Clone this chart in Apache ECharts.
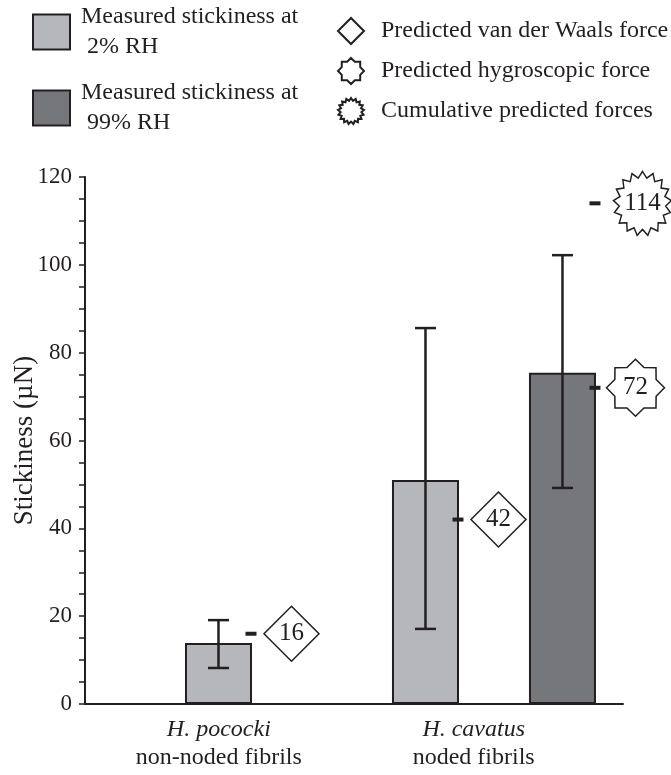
<!DOCTYPE html>
<html><head><meta charset="utf-8">
<script src="https://cdn.jsdelivr.net/npm/echarts@6/dist/echarts.min.js"></script>
<style>html,body{margin:0;padding:0;background:#fff}#c{width:671px;height:775px}</style>
</head><body><div id="c"></div>
<script>
// ---------------- data ----------------
const categories = ['H. pococki', 'H. cavatus'];
const categoryNotes = ['non-noded fibrils', 'noded fibrils'];
const yTickValues = [0, 20, 40, 60, 80, 100, 120];
// measured stickiness (µN) per category [H. pococki, H. cavatus]
const rh2Mean = [13.9, 51.0];
const rh2Low = [8.2, 17.1];
const rh2High = [19.1, 85.6];
const rh99Mean = [null, 75.4];
const rh99Low = [null, 49.2];
const rh99High = [null, 102.2];
// predicted forces (µN)
const vdwForce = [16, 42];          // shown beside the 2% RH bars
const hygroForce = [null, 72];      // shown beside the 99% RH bar
const cumulativeForce = [null, 114];// shown beside the 99% RH bar

const seriesNames = {
  rh2: 'Measured stickiness at 2% RH',
  rh99: 'Measured stickiness at 99% RH',
  vdw: 'Predicted van der Waals force',
  hygro: 'Predicted hygroscopic force',
  cum: 'Cumulative predicted forces'
};

// ---------------- layout (not data) ----------------
const FONT = "'Liberation Serif','Times New Roman',serif";
const INK = '#231f20';
const X_MAX = 8;
const barX = { rh2: [1.985, 5.063], rh99: [null, 7.1] }; // slot of each bar on the hidden x scale
const labelX = [1.99, 5.78];
const BAR_W = 67;

function starPath(n, inner) {
  const pts = [];
  for (let k = 0; k < 2 * n; k++) {
    const a = -Math.PI / 2 + k * Math.PI / n;
    const r = (k % 2 ? inner : 1) * 100;
    pts.push((100 + r * Math.cos(a)).toFixed(2) + ' ' + (100 + r * Math.sin(a)).toFixed(2));
  }
  return 'path://M' + pts.join(' L') + ' Z';
}
const octagram = starPath(8, 0.77);
const spiky = starPath(17, 0.8);

function pairs(xs, ys) {
  const out = [];
  ys.forEach((v, i) => { if (v != null && xs[i] != null) out.push([xs[i], v]); });
  return out;
}
function errs(xs, lo, hi) {
  const out = [];
  lo.forEach((v, i) => { if (v != null && xs[i] != null) out.push([xs[i], v, hi[i]]); });
  return out;
}

const markerStyle = { color: '#fff', borderColor: INK, borderWidth: 1.5, opacity: 1 };
const markerLabel = { show: true, position: 'inside', formatter: p => p.value[1], fontFamily: FONT, fontSize: 25, color: INK };

const chart = echarts.init(document.getElementById('c'), null, { renderer: 'canvas' });
chart.setOption({
  animation: false,
  backgroundColor: '#fff',
  textStyle: { fontFamily: FONT, color: INK },
  grid: { left: 85, right: 48, top: 177, bottom: 71, containLabel: false, outerBoundsMode: 'none' },
  legend: [
    {
      data: [seriesNames.rh2, seriesNames.rh99],
      orient: 'vertical', left: 32, top: 2, padding: 0, itemGap: 16, icon: 'rect',
      itemWidth: 37, itemHeight: 35, selectedMode: false,
      formatter: n => n.replace(' at ', ' at\n '),
      textStyle: { fontFamily: FONT, fontSize: 24, lineHeight: 30, color: INK, padding: [0, 0, 0, 6] }
    },
    {
      data: [seriesNames.vdw, seriesNames.hygro, seriesNames.cum],
      orient: 'vertical', left: 337, top: 17, padding: 0, itemGap: 12,
      itemWidth: 26, itemHeight: 26, selectedMode: false,
      textStyle: { fontFamily: FONT, fontSize: 24, lineHeight: 28, color: INK, padding: [0, 0, 0, 12] }
    }
  ],
  xAxis: {
    type: 'value', min: 0, max: X_MAX,
    axisLine: { show: true, onZero: false, lineStyle: { color: INK, width: 2 } },
    axisTick: { show: false }, splitLine: { show: false },
    axisLabel: {
      customValues: labelX, margin: 12,
      formatter: v => {
        let best = 0;
        labelX.forEach((x, i) => { if (Math.abs(x - v) < Math.abs(labelX[best] - v)) best = i; });
        return '{i|' + categories[best] + '}\n{n|' + categoryNotes[best] + '}';
      },
      rich: {
        i: { fontFamily: FONT, fontStyle: 'italic', fontSize: 24, lineHeight: 28, color: INK },
        n: { fontFamily: FONT, fontSize: 24, lineHeight: 28, color: INK }
      }
    }
  },
  yAxis: {
    type: 'value', min: yTickValues[0], max: yTickValues[yTickValues.length - 1], interval: 20,
    name: 'Stickiness (µN)', nameLocation: 'middle', nameGap: 47, nameRotate: 90, nameMoveOverlap: false,
    nameTextStyle: { fontFamily: FONT, fontSize: 27, color: INK },
    axisLine: { show: true, lineStyle: { color: INK, width: 2 } },
    axisTick: { show: true, length: 6, lineStyle: { color: INK, width: 1.5 } },
    minorTick: { show: true, splitNumber: 4, length: 6, lineStyle: { color: INK, width: 1.5 } },
    splitLine: { show: false },
    axisLabel: { fontFamily: FONT, fontSize: 23, color: INK, margin: 13 }
  },
  series: [
    {
      name: seriesNames.rh2, type: 'bar', barWidth: BAR_W, barGap: '-100%', z: 2,
      itemStyle: { color: '#b6b7ba', borderColor: INK, borderWidth: 2 },
      data: pairs(barX.rh2, rh2Mean)
    },
    {
      name: seriesNames.rh99, type: 'bar', barWidth: BAR_W, barGap: '-100%', z: 2,
      itemStyle: { color: '#76777a', borderColor: INK, borderWidth: 2 },
      data: pairs(barX.rh99, rh99Mean)
    },
    {
      name: 'error', type: 'custom', z: 3, clip: false,
      encode: { x: 0, y: [1, 2] },
      data: errs(barX.rh2, rh2Low, rh2High).concat(errs(barX.rh99, rh99Low, rh99High)),
      renderItem: (params, api) => {
        const x = api.value(0);
        const lo = api.coord([x, api.value(1)]);
        const hi = api.coord([x, api.value(2)]);
        const hw = 10.5;
        const st = { stroke: INK, lineWidth: 2.5 };
        return {
          type: 'group', children: [
            { type: 'line', shape: { x1: lo[0], y1: lo[1], x2: hi[0], y2: hi[1] }, style: st },
            { type: 'line', shape: { x1: lo[0] - hw, y1: lo[1], x2: lo[0] + hw, y2: lo[1] }, style: st },
            { type: 'line', shape: { x1: hi[0] - hw, y1: hi[1], x2: hi[0] + hw, y2: hi[1] }, style: st }
          ]
        };
      }
    },
    {
      name: 'dash', type: 'scatter', z: 3, clip: false, silent: true,
      symbol: 'rect', symbolSize: [11, 4], symbolOffset: [32.5, 0],
      itemStyle: { color: INK, opacity: 1 },
      data: pairs(barX.rh2, vdwForce).concat(pairs(barX.rh99, hygroForce), pairs(barX.rh99, cumulativeForce))
    },
    {
      name: seriesNames.vdw, type: 'scatter', z: 4, clip: false,
      symbol: 'diamond', symbolSize: [55, 55], symbolOffset: [73, 0],
      itemStyle: markerStyle, label: markerLabel,
      data: pairs(barX.rh2, vdwForce)
    },
    {
      name: seriesNames.hygro, type: 'scatter', z: 4, clip: false,
      symbol: octagram, symbolSize: [58, 57], symbolOffset: [73, 0],
      itemStyle: markerStyle, label: markerLabel,
      data: pairs(barX.rh99, hygroForce)
    },
    {
      name: seriesNames.cum, type: 'scatter', z: 4, clip: false,
      symbol: spiky, symbolSize: [58, 64], symbolOffset: [80, 0],
      itemStyle: markerStyle, label: markerLabel,
      data: pairs(barX.rh99, cumulativeForce)
    }
  ]
});
</script></body></html>
